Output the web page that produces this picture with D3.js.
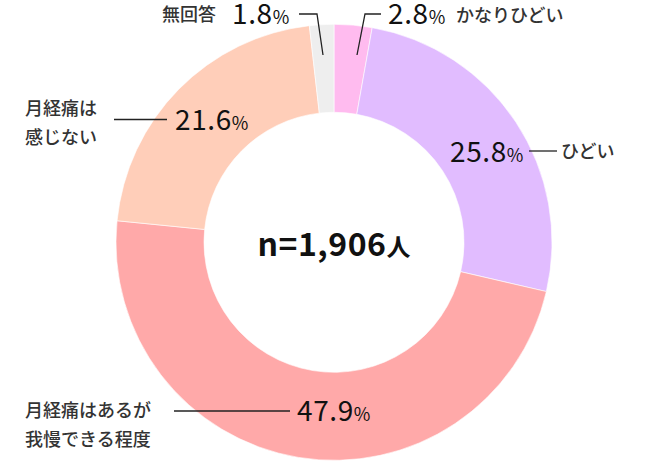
<!DOCTYPE html>
<html><head><meta charset="utf-8">
<script src="https://cdn.jsdelivr.net/npm/d3@7"></script>
<style>
html,body{margin:0;padding:0;background:#fff;}
svg{display:block;font-family:"Noto Sans CJK JP","Noto Sans",sans-serif;}
</style></head>
<body><svg id="c" width="670" height="462"></svg>
<script>
const categories = ["かなりひどい", "ひどい", "月経痛はあるが我慢できる程度", "月経痛は感じない", "無回答"];
const values = [2.8, 25.8, 47.9, 21.6, 1.8];
const sampleLabel = "n=1,906";
const sampleUnit = "人";

const colors = ["#FFBBEF", "#E1BCFF", "#FFA9A9", "#FFCEB9", "#EEEEEE"];

const svg = d3.select("#c");
const cx = 334, cy = 242.3, rOut = 218, rIn = 130;
const g = svg.append("g").attr("transform", `translate(${cx},${cy})`);

const pie = d3.pie().sort(null).value(d => d).startAngle(0).endAngle(2 * Math.PI);
const arc = d3.arc().innerRadius(rIn).outerRadius(rOut);
g.selectAll("path").data(pie(values)).join("path")
  .attr("d", arc)
  .attr("fill", (d, i) => colors[i])
  .attr("stroke", "#fff").attr("stroke-width", 0.6);

// centre text
const ct = svg.append("text").attr("x", cx).attr("y", 255.5)
  .attr("text-anchor", "middle").attr("font-weight", 700).attr("fill", "#111");
ct.append("tspan").attr("font-size", 32).attr("letter-spacing", 0.5).text(sampleLabel);
ct.append("tspan").attr("font-size", 24).text(sampleUnit);

const fmt = d3.format(".1f");
function valueText(x, y, v, anchor) {
  const t = svg.append("text").attr("x", x).attr("y", y).attr("text-anchor", anchor || "start")
    .attr("fill", "#111").attr("font-weight", 400);
  t.append("tspan").attr("font-size", 28).attr("letter-spacing", 0.6).text(fmt(v));
  t.append("tspan").attr("font-size", 18).text("%");
  return t;
}
function labelText(x, y, lines, anchor) {
  const t = svg.append("text").attr("x", x).attr("y", y).attr("text-anchor", anchor || "start")
    .attr("fill", "#333").attr("font-size", 18).attr("font-weight", 500);
  lines.forEach((s, i) => t.append("tspan").attr("x", x).attr("dy", i ? 29 : 0).text(s));
}
function leader(pts) {
  svg.append("path").attr("d", d3.line()(pts)).attr("fill", "none")
    .attr("stroke", "#222").attr("stroke-width", 1.3);
}

// 2.8 かなりひどい
leader([[357, 55], [365, 14], [381, 14]]);
valueText(388, 23.5, values[0]);
labelText(456, 22, [categories[0]]);

// 25.8 ひどい
valueText(450, 162, values[1]);
leader([[529, 151], [557, 151]]);
labelText(561, 158, [categories[1]]);

// 47.9 月経痛はあるが…
leader([[174, 411], [290, 411]]);
valueText(297, 421, values[2]);
labelText(25, 417, ["月経痛はあるが", "我慢できる程度"]);

// 21.6 月経痛は感じない
leader([[114, 119.5], [167, 119.5]]);
valueText(175, 130, values[3]);
labelText(25, 115, ["月経痛は", "感じない"]);

// 1.8 無回答
leader([[323, 55], [317, 14], [299, 14]]);
valueText(232, 23.5, values[4]);
labelText(162, 21, [categories[4]]);
</script></body></html>
